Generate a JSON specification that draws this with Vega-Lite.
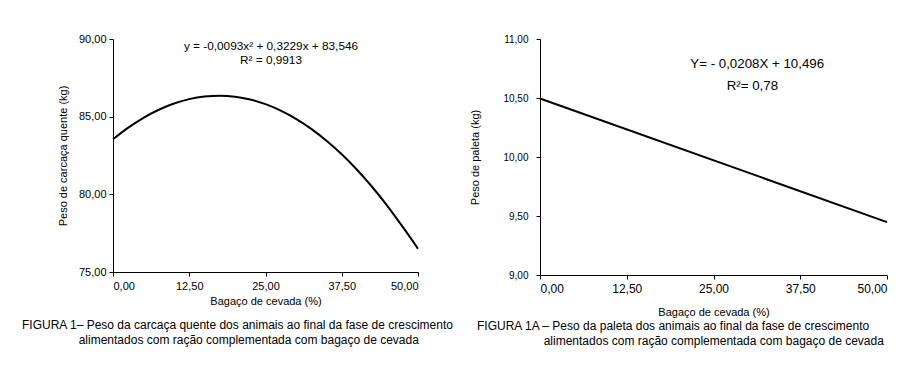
{
  "$schema": "https://vega.github.io/schema/vega-lite/v6.json",
  "background": "white",
  "padding": {"left": 22, "top": 33, "right": 5, "bottom": 5},
  "spacing": 15,
  "config": {
    "font": "Liberation Sans",
    "view": {"stroke": null},
    "axis": {
      "grid": false,
      "domainColor": "black",
      "tickColor": "black",
      "labelColor": "black",
      "titleColor": "black",
      "labelFont": "Liberation Sans",
      "titleFont": "Liberation Sans",
      "titleFontWeight": "normal",
      "labelFontSize": 11,
      "titleFontSize": 11,
      "tickSize": 4,
      "domainWidth": 1
    },
    "title": {"font": "Liberation Sans", "fontWeight": "normal", "color": "black"}
  },
  "datasets": {
    "carcaca": [
      {"x": 0, "y": 83.546}, {"x": 2.5, "y": 84.295}, {"x": 5, "y": 84.928},
      {"x": 7.5, "y": 85.445}, {"x": 10, "y": 85.845}, {"x": 12.5, "y": 86.129},
      {"x": 15, "y": 86.297}, {"x": 17.5, "y": 86.349}, {"x": 20, "y": 86.284},
      {"x": 22.5, "y": 86.103}, {"x": 25, "y": 85.806}, {"x": 27.5, "y": 85.393},
      {"x": 30, "y": 84.863}, {"x": 32.5, "y": 84.217}, {"x": 35, "y": 83.455},
      {"x": 37.5, "y": 82.577}, {"x": 40, "y": 81.582}, {"x": 42.5, "y": 80.471},
      {"x": 45, "y": 79.244}, {"x": 47.5, "y": 77.901}, {"x": 50, "y": 76.5}
    ],
    "eq1": [
      {"x": 25.9, "y": 89.55, "t": "y = -0,0093x² + 0,3229x + 83,546"},
      {"x": 25.9, "y": 88.65, "t": "R² = 0,9913"}
    ],
    "paleta": [
      {"x": 0, "y": 10.496}, {"x": 50, "y": 9.448}
    ],
    "eq2": [
      {"x": 31.3, "y": 10.785, "t": "Y= - 0,0208X  + 10,496"},
      {"x": 30.6, "y": 10.605, "t": "R²=  0,78"}
    ]
  },
  "hconcat": [
    {
      "width": 305,
      "height": 233,
      "title": {
        "text": ["FIGURA 1– Peso da carcaça quente dos animais ao final da fase de crescimento", "\u200b\u00a0\u00a0\u00a0\u00a0\u00a0\u00a0\u00a0\u00a0\u00a0\u00a0\u00a0\u00a0\u00a0\u00a0\u00a0\u00a0\u00a0alimentados com ração complementada com bagaço de cevada"],
        "orient": "bottom",
        "anchor": "start",
        "frame": "group",
        "align": "left",
        "dx": -91,
        "offset": 14,
        "fontSize": 12,
        "lineHeight": 15
      },
      "layer": [
        {
          "data": {"name": "carcaca"},
          "mark": {"type": "line", "color": "black", "strokeWidth": 2, "interpolate": "monotone"},
          "encoding": {
            "x": {
              "field": "x", "type": "quantitative",
              "scale": {"domain": [0, 50], "nice": false},
              "axis": {"values": [0, 12.5, 25, 37.5, 50], "title": "Bagaço de cevada (%)",
                "labelExpr": "replace(format(datum.value, '.2f'), '.', ',')", "labelPadding": 4, "titlePadding": 4}
            },
            "y": {
              "field": "y", "type": "quantitative",
              "scale": {"domain": [75, 90], "nice": false, "zero": false},
              "axis": {"values": [75, 80, 85, 90], "title": "Peso de carcaça quente (kg)",
                "labelExpr": "replace(format(datum.value, '.2f'), '.', ',')", "labelPadding": 3, "titlePadding": 10}
            }
          }
        },
        {
          "data": {"name": "eq1"},
          "mark": {"type": "text", "color": "black", "fontSize": 11.8, "font": "Liberation Sans"},
          "encoding": {
            "x": {"field": "x", "type": "quantitative"},
            "y": {"field": "y", "type": "quantitative"},
            "text": {"field": "t"}
          }
        }
      ]
    },
    {
      "width": 347,
      "height": 236,
      "title": {
        "text": ["FIGURA 1A – Peso da paleta  dos animais ao  final  da fase de crescimento", "\u200b\u00a0\u00a0\u00a0\u00a0\u00a0\u00a0\u00a0\u00a0\u00a0\u00a0\u00a0\u00a0\u00a0\u00a0\u00a0\u00a0\u00a0\u00a0\u00a0\u00a0alimentados com ração complementada com bagaço de cevada"],
        "orient": "bottom",
        "anchor": "start",
        "frame": "group",
        "align": "left",
        "dx": -63,
        "offset": 4,
        "fontSize": 12,
        "lineHeight": 15
      },
      "layer": [
        {
          "data": {"name": "paleta"},
          "mark": {"type": "line", "color": "black", "strokeWidth": 2},
          "encoding": {
            "x": {
              "field": "x", "type": "quantitative",
              "scale": {"domain": [0, 50], "nice": false},
              "axis": {"values": [0, 12.5, 25, 37.5, 50], "title": "Bagaço de cevada (%)",
                "labelExpr": "replace(format(datum.value, '.2f'), '.', ',')", "labelPadding": 4, "titlePadding": 12, "labelFontSize": 12}
            },
            "y": {
              "field": "y", "type": "quantitative",
              "scale": {"domain": [9, 11], "nice": false, "zero": false},
              "axis": {"values": [9, 9.5, 10, 10.5, 11], "title": "Peso de paleta (kg)",
                "labelExpr": "replace(format(datum.value, '.2f'), '.', ',')", "labelPadding": 8, "titlePadding": 22, "labelFontSize": 10}
            }
          }
        },
        {
          "data": {"name": "eq2"},
          "mark": {"type": "text", "color": "black", "fontSize": 13.3, "font": "Liberation Sans"},
          "encoding": {
            "x": {"field": "x", "type": "quantitative"},
            "y": {"field": "y", "type": "quantitative"},
            "text": {"field": "t"}
          }
        }
      ]
    }
  ]
}
